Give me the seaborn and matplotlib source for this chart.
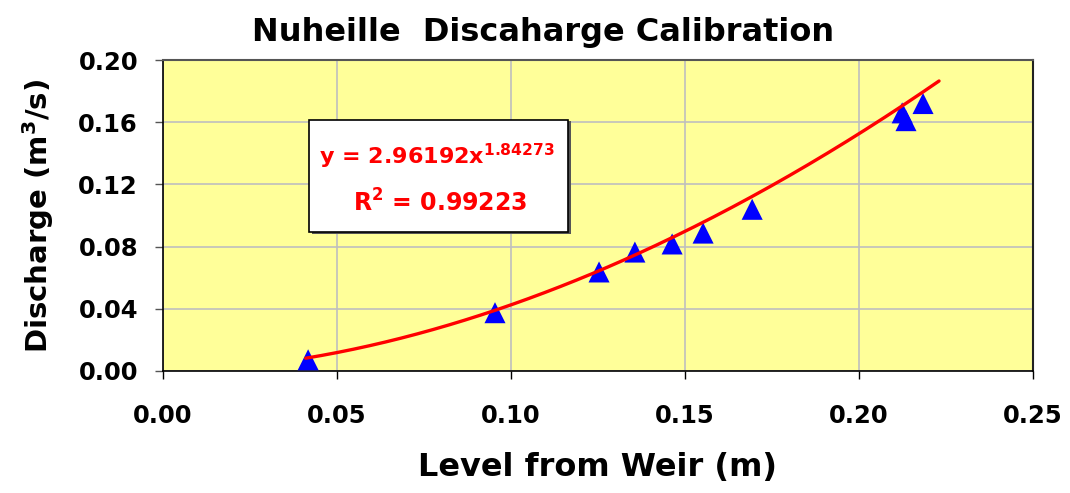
import numpy as np
import pandas as pd
import matplotlib
matplotlib.use("Agg")
import matplotlib.pyplot as plt
import seaborn as sns
from matplotlib.patches import Rectangle

# Data
level = [0.0417, 0.0954, 0.1253, 0.1356, 0.1463, 0.1552, 0.1693, 0.2124, 0.2135, 0.2184]
discharge = [0.0072, 0.0375, 0.0637, 0.0765, 0.0817, 0.0887, 0.1040, 0.1660, 0.1610, 0.1720]
coef_a = 2.96192
coef_b = 1.84273
r2 = 0.99223
fit_range = [0.041, 0.223]
x_ticks = [0.00, 0.05, 0.10, 0.15, 0.20, 0.25]
y_ticks = [0.00, 0.04, 0.08, 0.12, 0.16, 0.20]

sns.set_style("white")
plt.rcParams["font.family"] = ["DejaVu Sans"]
plt.rcParams["font.weight"] = "bold"
plt.rcParams["text.color"] = "black"
plt.rcParams["axes.labelcolor"] = "black"
plt.rcParams["xtick.color"] = "black"
plt.rcParams["ytick.color"] = "black"
plt.rcParams["mathtext.fontset"] = "custom"
plt.rcParams["mathtext.rm"] = "DejaVu Sans:bold"
plt.rcParams["mathtext.it"] = "DejaVu Sans:bold"
plt.rcParams["mathtext.bf"] = "DejaVu Sans:bold"
plt.rcParams["mathtext.default"] = "rm"

fig = plt.figure(figsize=(10.7, 4.93), dpi=100)
ax = fig.add_axes([163/1070, 1-371/493, 870/1070, 311/493])
ax.set_facecolor("#FFFF99")

xs = np.linspace(fit_range[0], fit_range[1], 200)
fit_df = pd.DataFrame({"x": xs, "y": coef_a * xs ** coef_b})
pts = pd.DataFrame({"level": level, "discharge": discharge})

sns.scatterplot(data=pts, x="level", y="discharge", marker="^", s=230,
                color="#0000FF", edgecolor="none", ax=ax, zorder=3)
sns.lineplot(data=fit_df, x="x", y="y", color="#FF0000", linewidth=2.4, ax=ax, zorder=4)

ax.set_xlim(0, 0.25)
ax.set_ylim(0, 0.20)
ax.set_xticks(x_ticks)
ax.set_yticks(y_ticks)
ax.set_xticklabels([f"{v:.2f}" for v in x_ticks], fontsize=17.5, fontweight="bold")
ax.set_yticklabels([f"{v:.2f}" for v in y_ticks], fontsize=17.5, fontweight="bold")
ax.grid(True, color="#BFBFBF", linewidth=1.2)
ax.set_axisbelow(True)
ax.tick_params(axis="x", direction="out", length=6, width=1, color="black", pad=18, bottom=True)
ax.tick_params(axis="y", direction="out", length=6, width=1, color="#555555", pad=12, left=True)
for side in ["left", "bottom"]:
    ax.spines[side].set_color("black")
    ax.spines[side].set_linewidth(1.2)
ax.spines["top"].set_color("#555555")
ax.spines["right"].set_color("#222222")
ax.spines["top"].set_linewidth(1.5)
ax.spines["right"].set_linewidth(1.5)

ax.set_xlabel("Level from Weir (m)", fontsize=23, fontweight="bold", labelpad=17)
ax.set_ylabel(r"Discharge (m$^{3}$/s)", fontsize=21, fontweight="bold", labelpad=16)
fig.text(543/1070, 1-32/493, "Nuheille  Discaharge Calibration", fontsize=23,
         fontweight="bold", ha="center", va="center")

# Equation box
ax.add_patch(Rectangle((0.171, 0.441), 0.298, 0.362, transform=ax.transAxes,
                       facecolor="#555555", edgecolor="none", zorder=5))
ax.add_patch(Rectangle((0.168, 0.447), 0.298, 0.360, transform=ax.transAxes,
                       facecolor="white", edgecolor="black", linewidth=1.2, zorder=6))
ax.text(0.315, 0.69, rf"y = {coef_a}x$^{{{coef_b}}}$", transform=ax.transAxes,
        fontsize=16, color="#FF0000", fontweight="bold", ha="center", va="center", zorder=7)
ax.text(0.318, 0.54, rf"R$^{{2}}$ = {r2}", transform=ax.transAxes,
        fontsize=17, color="#FF0000", fontweight="bold", ha="center", va="center", zorder=7)

fig.savefig("out.png", dpi=100)
